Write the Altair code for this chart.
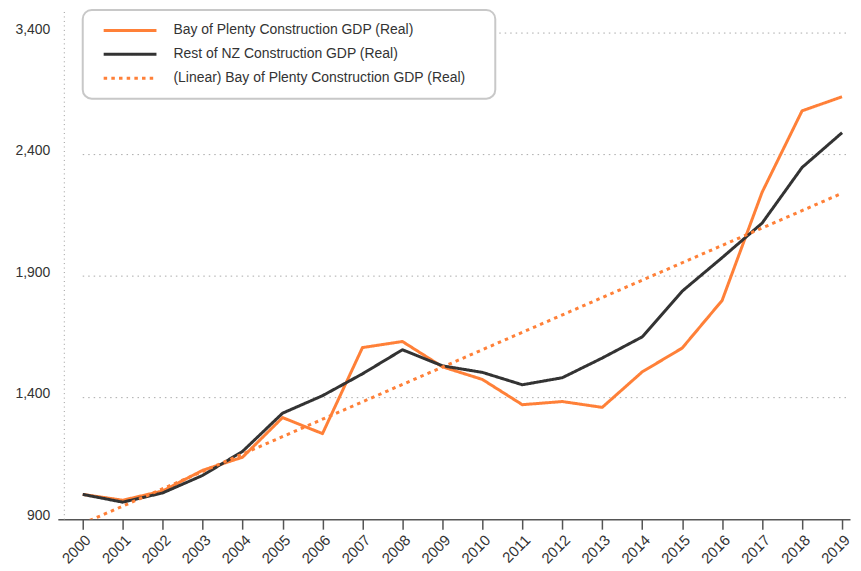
import altair as alt
import pandas as pd

# ---- data ----
years = list(range(2000, 2020))
bop = [1002, 978, 1016, 1101, 1155, 1318, 1252, 1606, 1631, 1527,
       1475, 1371, 1384, 1360, 1506, 1604, 1800, 2245, 2580, 2638]
rest = [1002, 970, 1008, 1080, 1179, 1336, 1408, 1498, 1597, 1531,
        1504, 1453, 1482, 1563, 1650, 1838, 1976, 2118, 2347, 2490]
trend_years = [2000, 2019]
trend_values = [882, 2241]

series_names = [
    "Bay of Plenty Construction GDP (Real)",
    "Rest of NZ Construction GDP (Real)",
    "(Linear) Bay of Plenty Construction GDP (Real)",
]
y_ticks = [900, 1400, 1900, 2400, 2900]
y_labels = ["900", "1,400", "1,900", "2,400", "3,400"]
grid_values = [1400, 1900, 2400, 2900]

ORANGE = "#FF8038"
DARK = "#333333"
FONT = "Liberation Sans"

rows = []
for yr, v in zip(years, bop):
    rows.append({"year": yr, "value": v, "series": series_names[0]})
for yr, v in zip(years, rest):
    rows.append({"year": yr, "value": v, "series": series_names[1]})
for yr, v in zip(trend_years, trend_values):
    rows.append({"year": yr, "value": v, "series": series_names[2]})
df = pd.DataFrame(rows)

W, H = 795, 511
X_DOMAIN = [1999.377, 2019.2]
Y_DOMAIN = [900, 2995]

label_expr = "''"
for t, l in zip(y_ticks, y_labels):
    label_expr = f"datum.value == {t} ? '{l}' : ({label_expr})"

x_scale = alt.Scale(domain=X_DOMAIN, nice=False, zero=False)
y_scale = alt.Scale(domain=Y_DOMAIN, nice=False, zero=False)

x_axis = alt.Axis(values=years, format="d", labelAngle=-45, tickSize=10,
                  tickColor="#555", tickWidth=1.5, domainColor="#555",
                  domainWidth=1.5, labelPadding=3, labelFontSize=15,
                  labelColor="#333", labelFont=FONT, grid=False)
y_axis = alt.Axis(values=y_ticks, labelExpr=label_expr, grid=False, ticks=False,
                  domain=True, domainDash=[1, 3.5], domainColor="#999",
                  domainWidth=1, offset=-6, labelPadding=14, labelOffset=-4,
                  minExtent=56, maxExtent=56, labelFontSize=14,
                  labelColor="#333", labelFont=FONT)

grid = alt.Chart(pd.DataFrame({"v": grid_values})).mark_rule(
    strokeDash=[1.5, 4], color="#aaa", strokeWidth=1
).encode(
    y=alt.Y("v:Q", scale=y_scale, axis=y_axis, title=None),
    x=alt.datum(2000, scale=x_scale, axis=x_axis, title=None),
    x2=alt.value(W),
)

box = alt.Chart(pd.DataFrame({"a": [0]})).mark_rect(
    cornerRadius=9, fill="white", stroke="#c8c8c8", strokeWidth=2
).encode(
    x=alt.value(25), x2=alt.value(439), y=alt.value(0), y2=alt.value(89)
)

legend = alt.Legend(title=None)

lines = alt.Chart(df).mark_line(clip=True, strokeJoin="round").encode(
    x=alt.X("year:Q", scale=x_scale, axis=x_axis, title=None),
    y=alt.Y("value:Q", scale=y_scale, axis=y_axis, title=None),
    color=alt.Color("series:N", sort=series_names,
                    scale=alt.Scale(domain=series_names, range=[ORANGE, DARK, ORANGE]),
                    legend=legend),
    strokeDash=alt.StrokeDash("series:N", sort=series_names,
                              scale=alt.Scale(domain=series_names,
                                              range=[[1, 0], [1, 0], [3.5, 4.2]]),
                              legend=legend),
    strokeWidth=alt.StrokeWidth("series:N",
                                scale=alt.Scale(domain=series_names, range=[3, 3, 4]),
                                legend=None),
)

# custom symbol: a horizontal stroke three times as wide as the symbol box
chart = alt.layer(grid, box, lines).properties(
    width=W, height=H, padding=0
).configure_view(stroke=None).configure_legend(
    orient="none", legendX=62, legendY=10, symbolType="M-3,0H3",
    symbolSize=312, symbolStrokeWidth=3, labelFontSize=14, labelColor="#333",
    labelFont=FONT, labelOffset=33, rowPadding=6, padding=0,
    labelLimit=400,
)

chart.save("out.html", embed_options={"renderer": "svg", "actions": False})
